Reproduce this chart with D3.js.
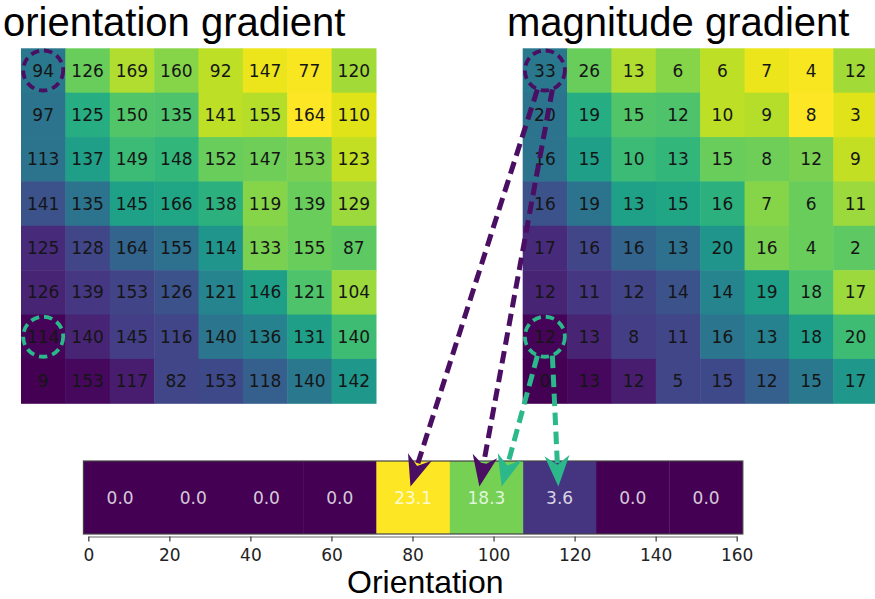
<!DOCTYPE html>
<meta charset="utf-8">
<head>
  <script src="https://cdn.jsdelivr.net/npm/d3@7"></script>
  <style>
    body { margin: 0; background: #fff; }
    svg { display: block; }
  </style>
</head>
<div id="my_dataviz"></div>
<script>
  // values
  var orientation = [
    [94, 126, 169, 160, 92, 147, 77, 120],
    [97, 125, 150, 135, 141, 155, 164, 110],
    [113, 137, 149, 148, 152, 147, 153, 123],
    [141, 135, 145, 166, 138, 119, 139, 129],
    [125, 128, 164, 155, 114, 133, 155, 87],
    [126, 139, 153, 126, 121, 146, 121, 104],
    [114, 140, 145, 116, 140, 136, 131, 140],
    [9, 153, 117, 82, 153, 118, 140, 142]
  ];
  var magnitude = [
    [33, 26, 13, 6, 6, 7, 4, 12],
    [20, 19, 15, 12, 10, 9, 8, 3],
    [16, 15, 10, 13, 15, 8, 12, 9],
    [16, 19, 13, 15, 16, 7, 6, 11],
    [17, 16, 16, 13, 20, 16, 4, 2],
    [12, 11, 12, 14, 14, 19, 18, 17],
    [12, 13, 8, 11, 16, 13, 18, 20],
    [0, 13, 12, 5, 15, 12, 15, 17]
  ];
  // cell colour (0..1 on viridis), same image under both grids
  var shade = [
    [0.40, 0.77, 0.88, 0.82, 0.90, 0.97, 0.99, 0.86],
    [0.38, 0.62, 0.73, 0.72, 0.90, 0.89, 1.00, 0.95],
    [0.38, 0.56, 0.68, 0.66, 0.77, 0.78, 0.80, 0.91],
    [0.25, 0.38, 0.57, 0.59, 0.64, 0.82, 0.77, 0.85],
    [0.12, 0.21, 0.32, 0.37, 0.52, 0.80, 0.77, 0.75],
    [0.10, 0.16, 0.20, 0.25, 0.45, 0.56, 0.72, 0.85],
    [0.01, 0.10, 0.18, 0.21, 0.39, 0.44, 0.56, 0.69],
    [0.00, 0.02, 0.08, 0.21, 0.22, 0.30, 0.40, 0.53]
  ];
  var histValues = [0.0, 0.0, 0.0, 0.0, 23.1, 18.3, 3.6, 0.0, 0.0];
  var binEdges = [-1.2, 16.9, 34.9, 53.0, 71.1, 89.2, 107.3, 125.3, 143.4, 161.5];
  var xTicks = [0, 20, 40, 60, 80, 100, 120, 140, 160];

  // magnitude cell -> orientation value where the arrow lands
  var arrows = [
    { row: 0, col: 0, side: -1, to: 79.5, color: "#4a0e62" },
    { row: 0, col: 0, side: 1, to: 96.5, color: "#4a0e62" },
    { row: 6, col: 0, side: -1, to: 102, color: "#2bb88a" },
    { row: 6, col: 0, side: 1, to: 116, color: "#2bb88a" }
  ];
  var circled = [
    { row: 0, col: 0, color: "#4a0e62" },
    { row: 6, col: 0, color: "#2bb88a" }
  ];

  var svg = d3.select("#my_dataviz")
    .append("svg")
    .attr("width", 875)
    .attr("height", 599);

  var color = function (v) { return d3.interpolateViridis(v); };

  var rows = d3.range(8);
  var yGrid = d3.scaleBand().domain(rows).range([48.3, 403.3]);
  var xLeft = d3.scaleBand().domain(rows).range([21, 376]);
  var xRight = d3.scaleBand().domain(rows).range([522.7, 877.7]);

  function drawGrid(xs, values, title, titleX) {
    var g = svg.append("g");
    values.forEach(function (line, r) {
      line.forEach(function (v, c) {
        g.append("rect")
          .attr("x", xs(c))
          .attr("y", yGrid(r))
          .attr("width", xs.bandwidth() + 0.5)
          .attr("height", yGrid.bandwidth() + 0.5)
          .attr("fill", color(shade[r][c]));
        g.append("text")
          .attr("x", xs(c) + xs.bandwidth() / 2)
          .attr("y", yGrid(r) + yGrid.bandwidth() / 2)
          .attr("dy", "0.36em")
          .attr("text-anchor", "middle")
          .style("font-family", "'DejaVu Sans', sans-serif")
          .style("font-size", "17px")
          .attr("fill", "#151515")
          .text(v);
      });
    });
    svg.append("text")
      .attr("x", titleX)
      .attr("y", 36)
      .style("font-family", "'Liberation Sans', Arial, sans-serif")
      .style("font-size", "40px")
      .attr("fill", "#000")
      .text(title);
    // dashed circles
    circled.forEach(function (d) {
      svg.append("circle")
        .attr("cx", xs(d.col) + xs.bandwidth() / 2)
        .attr("cy", yGrid(d.row) + yGrid.bandwidth() / 2)
        .attr("r", 20)
        .attr("fill", "none")
        .attr("stroke", d.color)
        .attr("stroke-width", 3.8)
        .attr("stroke-dasharray", "8.5,5");
    });
  }

  drawGrid(xLeft, orientation, "orientation gradient", 3);
  drawGrid(xRight, magnitude, "magnitude gradient", 507);

  // histogram bar
  var x = d3.scaleLinear().domain([0, 160]).range([88.3, 736.7]);
  var barTop = 461, barBottom = 534;
  var histColor = d3.scaleSequential(d3.interpolateViridis).domain([0, d3.max(histValues)]);

  var bar = svg.append("g");
  bar.selectAll("rect.bin")
    .data(histValues)
    .enter().append("rect")
    .attr("class", "bin")
    .attr("x", function (d, i) { return x(binEdges[i]); })
    .attr("y", barTop)
    .attr("width", function (d, i) { return x(binEdges[i + 1]) - x(binEdges[i]) + 0.3; })
    .attr("height", barBottom - barTop)
    .attr("fill", function (d) { return histColor(d); });
  bar.selectAll("text.val")
    .data(histValues)
    .enter().append("text")
    .attr("class", "val")
    .attr("x", function (d, i) { return x((binEdges[i] + binEdges[i + 1]) / 2); })
    .attr("y", (barTop + barBottom) / 2)
    .attr("dy", "0.36em")
    .attr("text-anchor", "middle")
    .style("font-family", "'DejaVu Sans', sans-serif")
    .style("font-size", "17px")
    .attr("fill", "#fff")
    .attr("fill-opacity", 0.8)
    .text(function (d) { return d.toFixed(1); });
  bar.append("rect")
    .attr("x", x(binEdges[0]))
    .attr("y", barTop)
    .attr("width", x(binEdges[binEdges.length - 1]) - x(binEdges[0]))
    .attr("height", barBottom - barTop)
    .attr("fill", "none")
    .attr("stroke", "#444")
    .attr("stroke-width", 1.2);

  var axis = svg.append("g")
    .attr("transform", "translate(0," + (barBottom + 2.5) + ")")
    .call(d3.axisBottom(x).tickValues(xTicks).tickSize(5).tickSizeOuter(0).tickPadding(7));
  axis.select(".domain").attr("stroke", "#666");
  axis.selectAll(".tick line").attr("stroke", "#444").attr("stroke-width", 1.3);
  axis.selectAll(".tick text")
    .style("font-family", "'DejaVu Sans', sans-serif")
    .style("font-size", "17px")
    .attr("fill", "#222");

  svg.append("text")
    .attr("x", 347)
    .attr("y", 593)
    .style("font-family", "'Liberation Sans', Arial, sans-serif")
    .style("font-size", "32px")
    .attr("fill", "#000")
    .text("Orientation");

  // dashed arrows from magnitude cells to histogram bins
  var headLen = 31, headHalf = 12.5;
  arrows.forEach(function (a) {
    var cx = xRight(a.col) + xRight.bandwidth() / 2;
    var cy = yGrid(a.row) + yGrid.bandwidth() / 2;
    var sx = cx + a.side * 7.5, sy = cy + 19;
    var tx = x(a.to), ty = barTop + 0.35 * (barBottom - barTop);
    var dx = tx - sx, dy = ty - sy, len = Math.sqrt(dx * dx + dy * dy);
    var ux = dx / len, uy = dy / len, nx = -uy, ny = ux;
    var bx = tx - ux * headLen, by = ty - uy * headLen;
    var kx = tx - ux * headLen * 0.7, ky = ty - uy * headLen * 0.7;
    svg.append("line")
      .attr("x1", sx).attr("y1", sy)
      .attr("x2", kx).attr("y2", ky)
      .attr("stroke", a.color)
      .attr("stroke-width", 5)
      .attr("stroke-dasharray", "12.5,6.5");
    svg.append("path")
      .attr("d", "M" + tx + "," + ty +
        "L" + (bx + nx * headHalf) + "," + (by + ny * headHalf) +
        "L" + kx + "," + ky +
        "L" + (bx - nx * headHalf) + "," + (by - ny * headHalf) + "Z")
      .attr("fill", a.color);
  });
</script>
